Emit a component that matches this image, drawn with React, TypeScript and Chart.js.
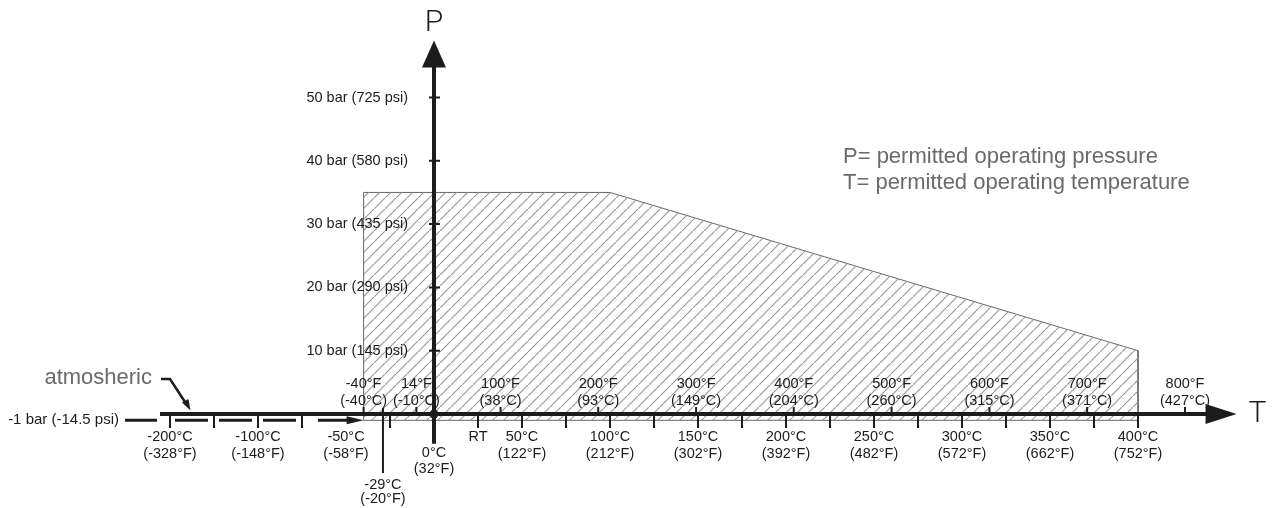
import React, { useEffect, useRef } from 'react';
import { Chart, registerables } from 'chart.js';

Chart.register(...registerables);

// ---- Data ----
// permitted operating envelope (temperature in °C, pressure in bar)
const envelopeTempC = [-40, 100, 400];
const envelopePressureBar = [35, 35, 10];
const envelopeBaseBar = -1;

// pressure axis
const pressureTicks = [10, 20, 30, 40, 50];
const pressureLabels = [
  '10 bar (145 psi)',
  '20 bar (290 psi)',
  '30 bar (435 psi)',
  '40 bar (580 psi)',
  '50 bar (725 psi)',
];
const vacuumLabel = '-1 bar (-14.5 psi)';
const atmosphericLabel = 'atmosheric';

// temperature axis: Celsius labels below (-200°C sits at the axis break, drawn at -150)
const celsiusTickPos = [-150, -100, -50, 50, 100, 150, 200, 250, 300, 350, 400];
const celsiusLabels = ['-200°C', '-100°C', '-50°C', '50°C', '100°C', '150°C', '200°C', '250°C', '300°C', '350°C', '400°C'];
const celsiusSubLabels = ['(-328°F)', '(-148°F)', '(-58°F)', '(122°F)', '(212°F)', '(302°F)', '(392°F)', '(482°F)', '(572°F)', '(662°F)', '(752°F)'];
const celsiusMarkPos = [-150, -125, -100, -75, -25, 25, 50, 75, 100, 125, 150, 175, 200, 225, 250, 275, 300, 325, 350, 375, 400];
const zeroLabel = '0°C';
const zeroSubLabel = '(32°F)';
const roomTempPos = 25;
const roomTempLabel = 'RT';
const lowLimitPos = -29;
const lowLimitLabel = '-29°C';
const lowLimitSubLabel = '(-20°F)';

// Fahrenheit labels above the axis (positions in °C)
const fahrenheitTickPos = [-40, -10, 37.8, 93.3, 148.9, 204.4, 260, 315.6, 371.1, 426.7];
const fahrenheitLabels = ['-40°F', '14°F', '100°F', '200°F', '300°F', '400°F', '500°F', '600°F', '700°F', '800°F'];
const fahrenheitSubLabels = ['(-40°C)', '(-10°C)', '(38°C)', '(93°C)', '(149°C)', '(204°C)', '(260°C)', '(315°C)', '(371°C)', '(427°C)'];

const legendLines = ['P= permitted operating pressure', 'T= permitted operating temperature'];

// axis extents
const tAxisBreak = -150;
const tAxisEnd = 456;
const pAxisStart = -4.7;
const pAxisEnd = 59;

function makeHatch(): CanvasPattern | string {
  const s = 11;
  const c = document.createElement('canvas');
  c.width = s;
  c.height = s;
  const g = c.getContext('2d');
  if (!g) return '#ddd';
  g.strokeStyle = '#9a9a9a';
  g.lineWidth = 1.2;
  g.beginPath();
  g.moveTo(-1, s + 1);
  g.lineTo(s + 1, -1);
  g.moveTo(-2, 1);
  g.lineTo(1, -2);
  g.moveTo(s - 1, s + 2);
  g.lineTo(s + 2, s - 1);
  g.stroke();
  const p = g.createPattern(c, 'repeat');
  return p || '#ddd';
}

const axesPlugin = {
  id: 'ptAxes',
  afterDatasetsDraw(chart: any) {
    const xs = chart.scales.x;
    const ys = chart.scales.y;
    const X = (v: number) => xs.getPixelForValue(v);
    const Y = (v: number) => ys.getPixelForValue(v);
    const ctx: CanvasRenderingContext2D = chart.ctx;
    const y0 = Y(0);
    const x0 = X(0);
    const yNeg = Y(envelopeBaseBar);
    const ink = '#1c1c1c';
    ctx.save();
    ctx.strokeStyle = ink;
    ctx.fillStyle = ink;
    ctx.lineCap = 'butt';

    // -1 bar dashed line
    ctx.lineWidth = 3;
    ctx.beginPath();
    ctx.moveTo(X(tAxisBreak) - 45, yNeg);
    ctx.lineTo(X(tAxisBreak) - 13, yNeg);
    for (let t = tAxisBreak; t < -75; t += 25) {
      ctx.moveTo(X(t) + 5, yNeg);
      ctx.lineTo(X(t + 25) - 6, yNeg);
    }
    ctx.moveTo(X(-75) + 16, yNeg);
    ctx.lineTo(X(envelopeTempC[0]) - 14, yNeg);
    ctx.stroke();
    ctx.beginPath();
    ctx.moveTo(X(envelopeTempC[0]), yNeg);
    ctx.lineTo(X(envelopeTempC[0]) - 17, yNeg - 4);
    ctx.lineTo(X(envelopeTempC[0]) - 17, yNeg + 4);
    ctx.closePath();
    ctx.fill();

    // main temperature axis
    const tip = X(tAxisEnd);
    ctx.lineWidth = 4;
    ctx.beginPath();
    ctx.moveTo(X(tAxisBreak) - 10, y0);
    ctx.lineTo(tip - 25, y0);
    ctx.stroke();
    ctx.beginPath();
    ctx.moveTo(tip, y0);
    ctx.lineTo(tip - 31, y0 - 10);
    ctx.lineTo(tip - 31, y0 + 10);
    ctx.closePath();
    ctx.fill();

    // pressure axis
    const ptip = Y(pAxisEnd);
    ctx.beginPath();
    ctx.moveTo(x0, Y(pAxisStart));
    ctx.lineTo(x0, ptip + 22);
    ctx.stroke();
    ctx.beginPath();
    ctx.moveTo(x0, ptip);
    ctx.lineTo(x0 - 12, ptip + 27);
    ctx.lineTo(x0 + 12, ptip + 27);
    ctx.closePath();
    ctx.fill();
    ctx.beginPath();
    ctx.arc(x0, y0, 4.5, 0, Math.PI * 2);
    ctx.fill();

    // ticks
    ctx.lineWidth = 2;
    ctx.beginPath();
    celsiusMarkPos.forEach((t) => {
      ctx.moveTo(X(t), y0 + 2);
      ctx.lineTo(X(t), y0 + 14);
    });
    fahrenheitTickPos.forEach((t) => {
      ctx.moveTo(X(t), y0 - 7);
      ctx.lineTo(X(t), y0 - 2);
    });
    pressureTicks.forEach((p) => {
      ctx.moveTo(x0 - 5, Y(p));
      ctx.lineTo(x0 + 6, Y(p));
    });
    ctx.moveTo(X(lowLimitPos), y0 - 6);
    ctx.lineTo(X(lowLimitPos), y0 + 59);
    ctx.stroke();

    // labels
    const font = '"Liberation Sans", Arial, Helvetica, sans-serif';
    ctx.font = `14.5px ${font}`;
    ctx.textAlign = 'center';
    ctx.textBaseline = 'middle';
    celsiusTickPos.forEach((t, i) => {
      ctx.fillText(celsiusLabels[i], X(t), y0 + 23);
      ctx.fillText(celsiusSubLabels[i], X(t), y0 + 40);
    });
    fahrenheitTickPos.forEach((t, i) => {
      ctx.fillText(fahrenheitLabels[i], X(t), y0 - 30);
      ctx.fillText(fahrenheitSubLabels[i], X(t), y0 - 13);
    });
    ctx.fillText(zeroLabel, x0, y0 + 39);
    ctx.fillText(zeroSubLabel, x0, y0 + 55);
    ctx.fillText(roomTempLabel, X(roomTempPos), y0 + 23);
    ctx.fillText(lowLimitLabel, X(lowLimitPos), y0 + 71);
    ctx.fillText(lowLimitSubLabel, X(lowLimitPos), y0 + 85);
    ctx.textAlign = 'right';
    pressureTicks.forEach((p, i) => {
      ctx.fillText(pressureLabels[i], x0 - 26, Y(p));
    });
    ctx.font = `15px ${font}`;
    ctx.fillText(vacuumLabel, X(tAxisBreak) - 51, yNeg);

    // axis names
    ctx.textAlign = 'center';
    ctx.font = `300 30px Roboto, ${font}`;
    ctx.fillText('P', x0, ptip - 17);
    ctx.textAlign = 'left';
    ctx.fillText('T', tip + 12, y0);

    // atmospheric pointer
    ctx.fillStyle = '#6a6a6a';
    ctx.font = `22px ${font}`;
    ctx.textAlign = 'right';
    ctx.fillText(atmosphericLabel, X(tAxisBreak) - 18, y0 - 36);
    ctx.strokeStyle = ink;
    ctx.fillStyle = ink;
    ctx.lineWidth = 2.5;
    const ax = X(tAxisBreak);
    ctx.beginPath();
    ctx.moveTo(ax - 9, y0 - 35);
    ctx.lineTo(ax, y0 - 35);
    ctx.lineTo(ax + 17, y0 - 9);
    ctx.stroke();
    ctx.beginPath();
    const hx = ax + 20.5;
    const hy = y0 - 3.5;
    ctx.moveTo(hx, hy);
    ctx.lineTo(hx - 8.5, hy - 8);
    ctx.lineTo(hx - 2, hy - 11.5);
    ctx.closePath();
    ctx.fill();

    // legend text
    ctx.fillStyle = '#6a6a6a';
    ctx.font = `22px ${font}`;
    ctx.textAlign = 'left';
    legendLines.forEach((line, i) => {
      ctx.fillText(line, 843, 157 + i * 26);
    });
    ctx.restore();
  },
};

export default function App() {
  const ref = useRef<HTMLCanvasElement | null>(null);
  useEffect(() => {
    if (!ref.current) return;
    const top = envelopeTempC.map((t, i) => ({ x: t, y: envelopePressureBar[i] }));
    const outline = [
      { x: envelopeTempC[0], y: envelopeBaseBar },
      ...top,
      { x: envelopeTempC[envelopeTempC.length - 1], y: envelopeBaseBar },
      { x: envelopeTempC[0], y: envelopeBaseBar },
    ];
    const chart = new Chart(ref.current, {
      type: 'line',
      data: {
        datasets: [
          {
            data: top,
            fill: { value: envelopeBaseBar },
            backgroundColor: makeHatch() as any,
            borderWidth: 0,
            borderColor: 'rgba(0,0,0,0)',
            pointRadius: 0,
          },
          {
            data: outline,
            fill: false,
            borderColor: '#666',
            borderWidth: 1,
            pointRadius: 0,
          },
        ],
      },
      options: {
        responsive: false,
        animation: false,
        events: [],
        layout: { padding: 0 },
        plugins: { legend: { display: false }, tooltip: { enabled: false } },
        scales: {
          x: { type: 'linear', display: false, min: -434 / 1.76, max: 840 / 1.76 },
          y: { type: 'linear', display: false, min: -94 / 6.33, max: 414 / 6.33 },
        },
      },
      plugins: [axesPlugin],
    });
    return () => chart.destroy();
  }, []);
  return (
    <div style={{ position: 'fixed', left: 0, top: 0, width: 1274, height: 508, background: '#fff' }}>
      <canvas ref={ref} width={1274} height={508} style={{ display: 'block' }} />
    </div>
  );
}
